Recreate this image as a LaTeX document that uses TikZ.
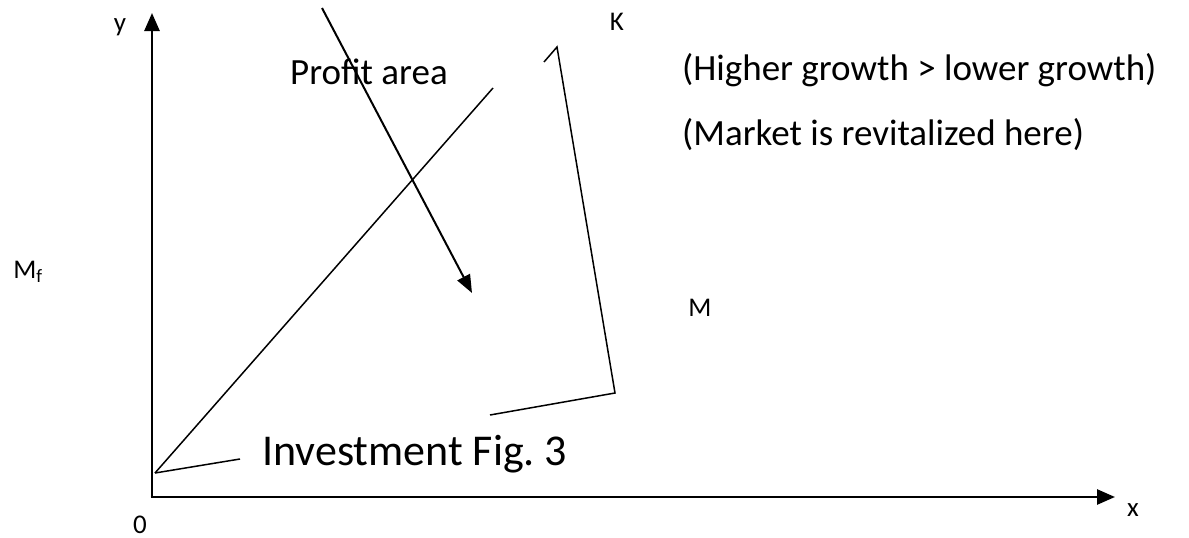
\documentclass[tikz,border=0pt]{standalone}
\usepackage{fontspec}
\setmainfont{Carlito}
\usetikzlibrary{arrows.meta}
\begin{document}
\frenchspacing
\begin{tikzpicture}[x=1pt,y=-1pt,
  big/.style={inner sep=0pt,font=\fontsize{37}{44}\selectfont},
  bigger/.style={inner sep=0pt,font=\fontsize{44}{50}\selectfont},
  small/.style={inner sep=0pt,font=\fontsize{27}{31}\selectfont},
  axis/.style={line width=2.6pt,-{Triangle[length=18pt,width=15pt]}},
  thin/.style={line width=1.5pt},
  arr/.style={line width=2pt,-{Triangle[length=18pt,width=14pt]}}]
\useasboundingbox (0,0) rectangle (1189,538);
% coordinates
\coordinate (O) at (152,497);
\coordinate (ytop) at (152,13);
\coordinate (xend) at (1115,497);
\coordinate (s) at (155,473);
\coordinate (dtop) at (493,88);
\coordinate (iend) at (240,459);
\coordinate (bl) at (490,415);
\coordinate (corner) at (615,393);
\coordinate (ktop) at (557,47);
\coordinate (ktick) at (544,62);
\coordinate (a1) at (322,8);
\coordinate (a2) at (472,293);
% axes
\draw[axis] (O) -- (ytop);
\draw[axis] ([xshift=-1.3pt]O) -- (xend);
% lines
\draw[thin] (s) -- (dtop);
\draw[thin] (s) -- (iend);
\draw[thin] (bl) -- (corner) -- (ktop) -- (ktick);
\draw[arr] (a1) -- (a2);
% labels
\node[small] (ly) at (120,27) {y};
\node[small] (lx) at (1133,510) {x};
\node[small,anchor=south] (l0) at (140,534) {0};
\node[small] (lK) at (617,22) {K};
\node[small] (lM) at (700,308) {M};
\node[small] (lMf) at (28,272) {M\textsubscript{f}};
\node[big,anchor=base west] (pa) at (290,84) {Profit area};
\node[bigger,anchor=base west] (inv) at (262,465) {Investment Fig. 3};
\node[big,anchor=base west] (hg) at (682,80) {(Higher growth > lower growth)};
\node[big,anchor=base west] (mr) at (682,145) {(Market is revitalized here)};
\end{tikzpicture}
\end{document}
